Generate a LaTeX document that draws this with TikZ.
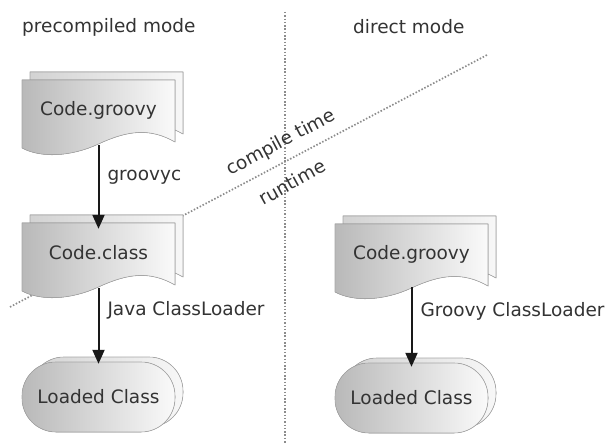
\documentclass[tikz,border=0pt]{standalone}
\usepackage{fontspec}
\setmainfont{DejaVu Sans}
\usetikzlibrary{positioning,arrows.meta,backgrounds}

% outline of a sheet with a wavy lower edge, around (0,0)
\newcommand{\docpath}{(-76.5,-30) -- (76.5,-30) -- (76.5,32)
  .. controls (52,18) and (30,20) .. (0,34)
  .. controls (-28,47) and (-58,48) .. (-76.5,38) -- cycle}
\newcommand{\pillpath}{(-76.5,-35) rectangle (76.5,35)}

\begin{document}
\begin{tikzpicture}[x=1pt,y=-1pt,
    every node/.style={font=\fontsize{18.5}{22}\selectfont,text=black!80},
    box/.style={minimum width=153pt,minimum height=60pt,inner sep=0pt},
    pill/.style={box,minimum height=70pt},
    sheet/.style={draw=gray!70,line width=.6pt,left color=gray!55,right color=gray!4},
    backsheet/.style={sheet,left color=gray!35,right color=gray!6},
    flow/.style={-{Triangle[width=12pt,length=14pt]},line width=2pt,black!90},
    lbl/.style={anchor=west,xshift=8pt,inner sep=0pt},
    sep/.style={gray!90,line width=1.7pt,dash pattern=on 1.5pt off 1.8pt}]
    \useasboundingbox (0,0) rectangle (607,443);

    \node[anchor=west,inner sep=0pt] (modeA) at (22,27) {precompiled mode};
    \node[anchor=west,inner sep=0pt] (modeB) at (353,27) {direct mode};

    \node[box]  (srcA)   at (98.5,110) {Code.groovy};
    \node[box]  (classA) at (98.5,253) {Code.class};
    \node[pill] (loadA)  at (98.5,397) {Loaded Class};
    \node[box]  (srcB)   at (411.5,254) {Code.groovy};
    \node[pill] (loadB)  at (411.5,398) {Loaded Class};

    \coordinate (vtop) at (285,12);
    \coordinate (vbot) at (285,443);
    \coordinate (dleft) at (10,307);
    \coordinate (dright) at (487,55);

    \begin{pgfonlayer}{background}
        \draw[sep] (vtop) -- (vbot);
        \draw[sep] (dleft) -- (dright);
        \foreach \n in {srcA,classA,srcB}{
            \begin{scope}[shift={(\n.center)}]
                \filldraw[backsheet,xshift=8pt,yshift=8pt] \docpath;
                \filldraw[sheet] \docpath;
            \end{scope}}
        \foreach \n in {loadA,loadB}{
            \begin{scope}[shift={(\n.center)},rounded corners=34pt]
                \filldraw[backsheet,xshift=8pt,yshift=5pt] \pillpath;
                \filldraw[sheet] \pillpath;
            \end{scope}}
    \end{pgfonlayer}

    \node[rotate=28] (ctime) at (281,143) {compile time};
    \node[rotate=29] (rtime) at (292,182) {runtime};

    \draw[flow,shorten <=5pt,shorten >=-6pt] (srcA) -- node[lbl,pos=.45]{groovyc} (classA);
    \draw[flow,shorten <=5pt,shorten >=-2pt] (classA) -- node[lbl,pos=.35]{Java ClassLoader} (loadA);
    \draw[flow,shorten <=3pt,shorten >=-4pt] (srcB) -- node[lbl,pos=.35]{Groovy ClassLoader} (loadB);
\end{tikzpicture}
\end{document}
